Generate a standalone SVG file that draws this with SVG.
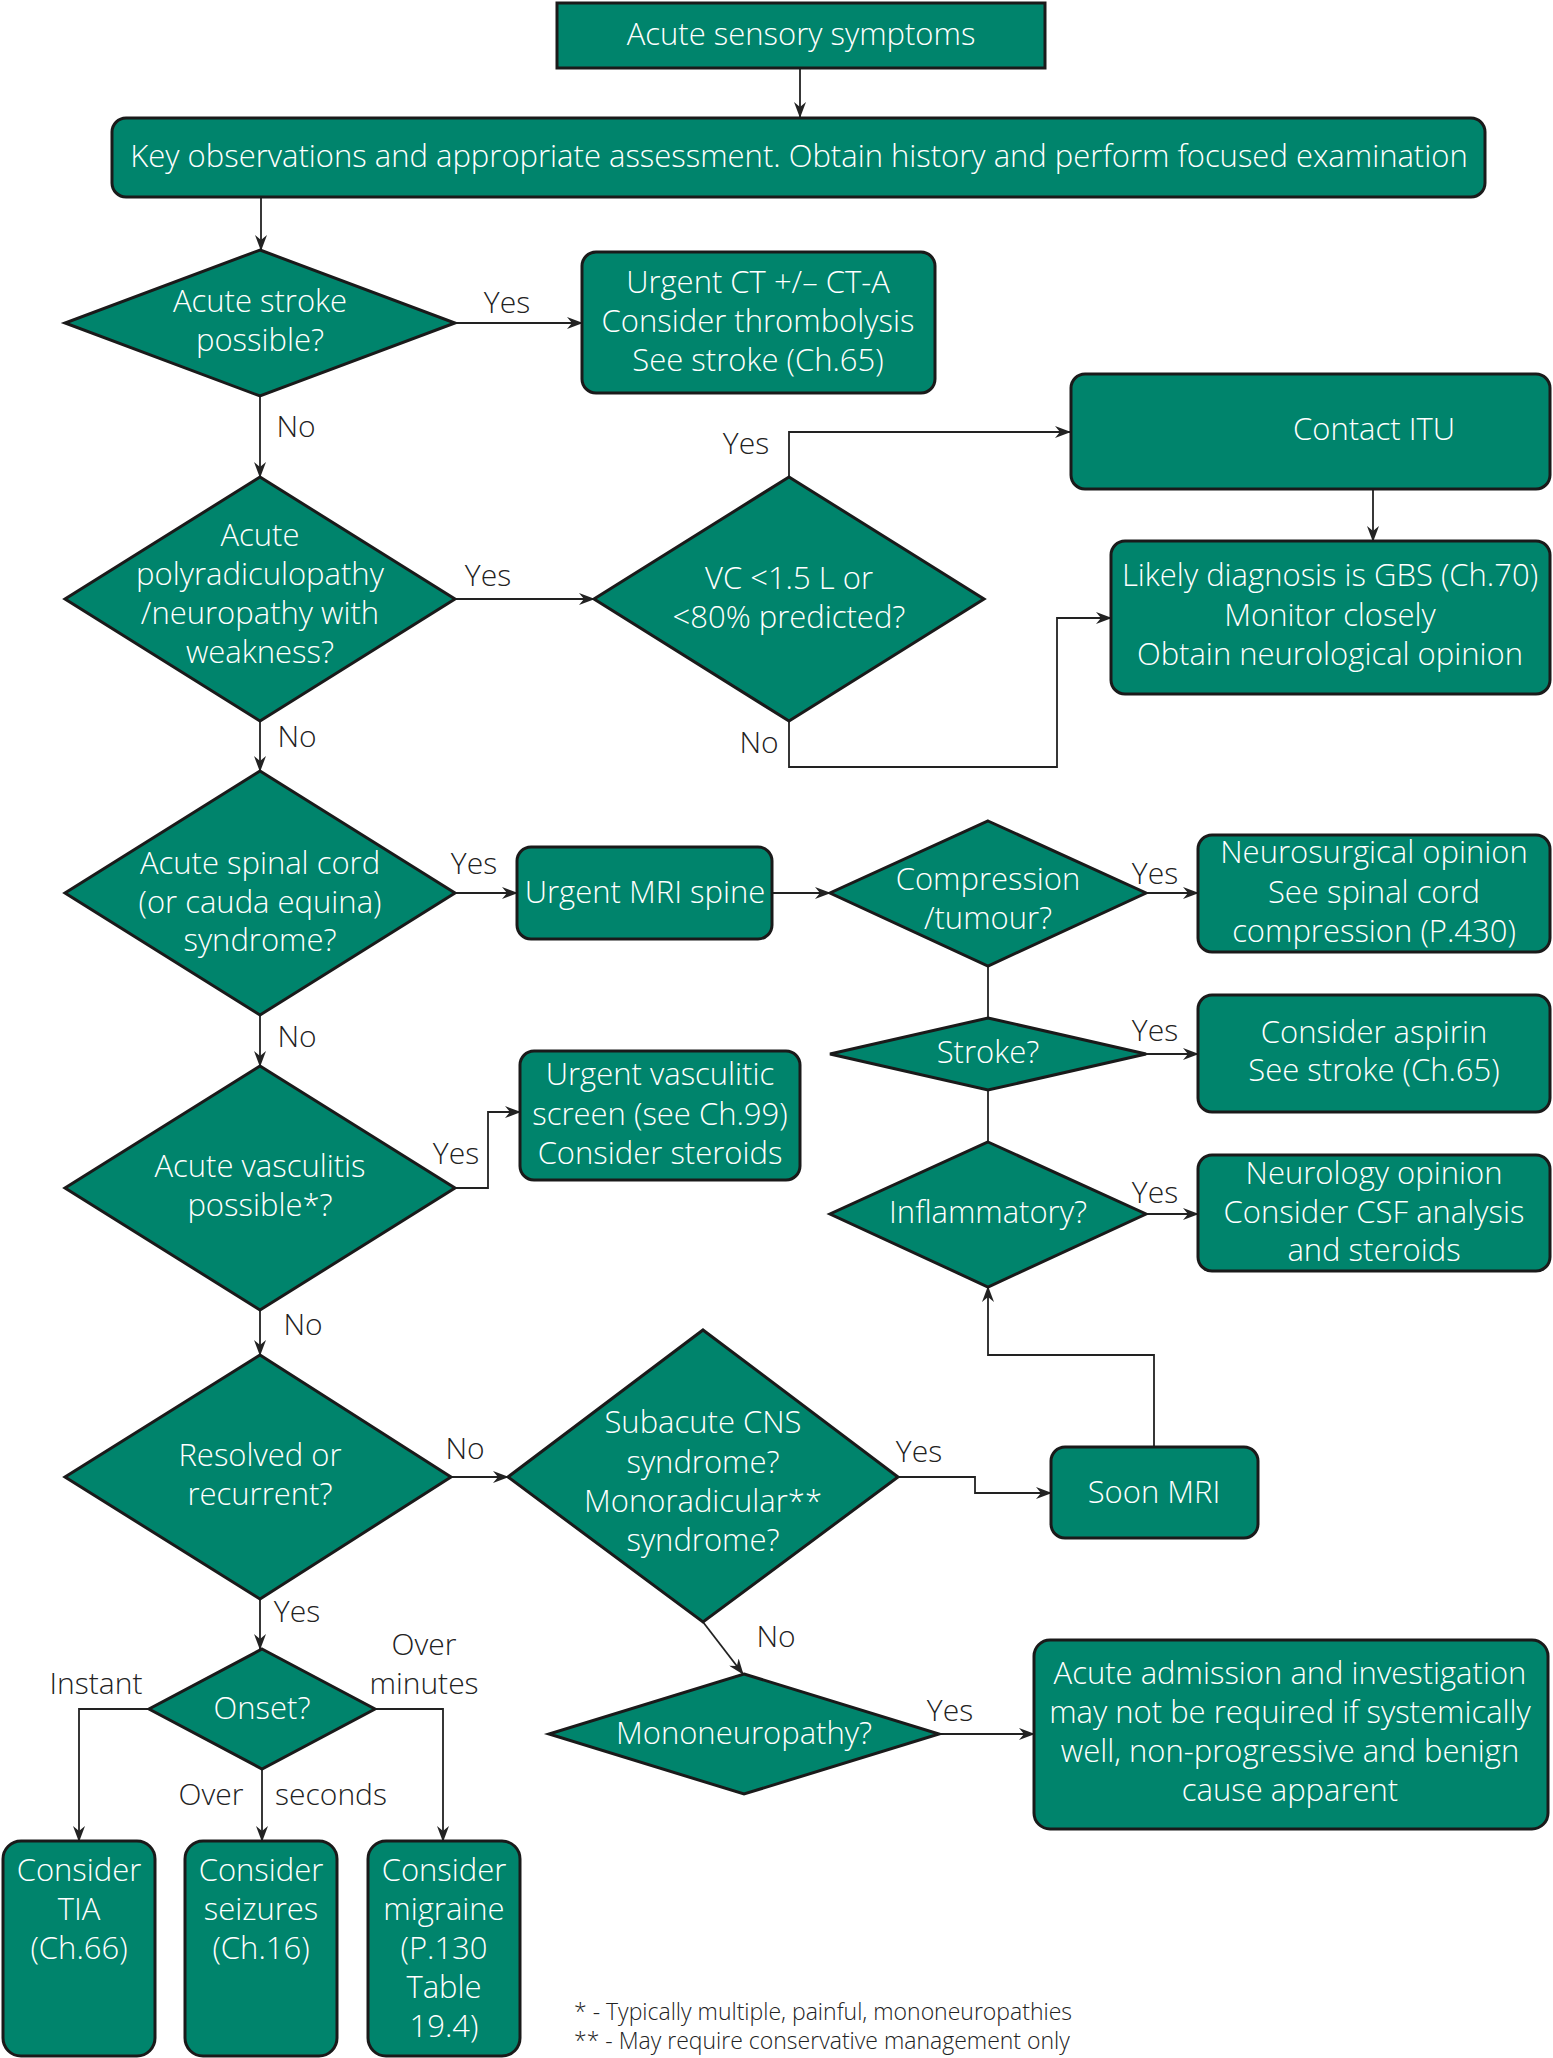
<svg xmlns="http://www.w3.org/2000/svg" width="1553" height="2058" viewBox="0 0 1553 2058">
<defs>
<marker id="ah" viewBox="0 0 16 12" refX="15" refY="6" markerWidth="16" markerHeight="12" markerUnits="userSpaceOnUse" orient="auto">
<path d="M0,0 L16,6 L0,12 L5,6 z" fill="#222"/>
</marker>
<style>
.n{fill:#00846c;stroke:#1a1a1a;stroke-width:3}
.t{fill:#ffffff;font-family:"Open Sans","Noto Sans",sans-serif;font-size:31px;font-weight:300;text-anchor:middle}
.l{fill:#222;font-family:"Open Sans","Noto Sans",sans-serif;font-size:30px;font-weight:300;text-anchor:middle}
.f{fill:#222;font-family:"Open Sans","Noto Sans",sans-serif;font-size:23px;font-weight:300}
.c{fill:none;stroke:#222;stroke-width:1.8}
.a{marker-end:url(#ah)}
</style>
</defs>
<rect width="1553" height="2058" fill="#ffffff"/>

<g id="connectors">
<path class="c a" d="M800,68 V117"/>
<path class="c a" d="M261,197 V250"/>
<path class="c a" d="M455,323 H582"/>
<path class="c a" d="M260,396 V477"/>
<path class="c a" d="M455,599 H594"/>
<path class="c a" d="M789,477 V432 H1070"/>
<path class="c a" d="M1373,489 V541"/>
<path class="c a" d="M789,721 V767 H1057 V618 H1111"/>
<path class="c a" d="M260,721 V771"/>
<path class="c a" d="M455,893 H517"/>
<path class="c a" d="M772,893 H830"/>
<path class="c a" d="M1146,893 H1198"/>
<path class="c" d="M988,966 V1018"/>
<path class="c a" d="M1146,1054 H1198"/>
<path class="c" d="M988,1090 V1142"/>
<path class="c a" d="M1146,1214 H1198"/>
<path class="c a" d="M1154,1447 V1355 H988 V1287"/>
<path class="c a" d="M260,1015 V1066"/>
<path class="c a" d="M455,1188 H488 V1112 H520"/>
<path class="c a" d="M260,1310 V1355"/>
<path class="c a" d="M451,1477 H508"/>
<path class="c a" d="M898,1477 H975 V1493 H1051"/>
<path class="c a" d="M703,1622 L743,1674"/>
<path class="c a" d="M939,1734 H1034"/>
<path class="c a" d="M260,1599 V1649"/>
<path class="c a" d="M149,1709 H79 V1841"/>
<path class="c a" d="M262,1769 V1841"/>
<path class="c a" d="M375,1709 H443 V1841"/>
</g>

<g id="labels">
<text class="l" x="507" y="313">Yes</text>
<text class="l" x="296" y="437">No</text>
<text class="l" x="488" y="586">Yes</text>
<text class="l" x="746" y="454">Yes</text>
<text class="l" x="759" y="753">No</text>
<text class="l" x="297" y="747">No</text>
<text class="l" x="474" y="874">Yes</text>
<text class="l" x="1155" y="884">Yes</text>
<text class="l" x="1155" y="1041">Yes</text>
<text class="l" x="1155" y="1203">Yes</text>
<text class="l" x="297" y="1047">No</text>
<text class="l" x="456" y="1164">Yes</text>
<text class="l" x="303" y="1335">No</text>
<text class="l" x="465" y="1459">No</text>
<text class="l" x="919" y="1462">Yes</text>
<text class="l" x="776" y="1647">No</text>
<text class="l" x="950" y="1721">Yes</text>
<text class="l" x="297" y="1622">Yes</text>
<text class="l" x="96" y="1694">Instant</text>
<text class="l" x="211" y="1805">Over</text>
<text class="l" x="331" y="1805">seconds</text>
<text class="l" x="424" y="1655">Over</text>
<text class="l" x="424" y="1694">minutes</text>
</g>

<g id="n-start">
<rect class="n" x="557" y="3" width="488" height="65"/>
<text class="t" x="801" y="45">Acute sensory symptoms</text>
</g>
<g id="n-key">
<rect class="n" x="112" y="118" width="1373" height="79" rx="14"/>
<text class="t" x="799" y="167">Key observations and appropriate assessment. Obtain history and perform focused examination</text>
</g>
<g id="d-stroke">
<polygon class="n" points="260,250 455,323 260,396 65,323"/>
<text class="t" x="260" y="312">Acute stroke</text>
<text class="t" x="260" y="351">possible?</text>
</g>
<g id="n-ct">
<rect class="n" x="582" y="252" width="353" height="141" rx="14"/>
<text class="t" x="758" y="293">Urgent CT +/– CT-A</text>
<text class="t" x="758" y="332">Consider thrombolysis</text>
<text class="t" x="758" y="371">See stroke (Ch.65)</text>
</g>
<g id="d-poly">
<polygon class="n" points="260,477 455,599 260,721 65,599"/>
<text class="t" x="260" y="546">Acute</text>
<text class="t" x="260" y="585">polyradiculopathy</text>
<text class="t" x="260" y="624">/neuropathy with</text>
<text class="t" x="260" y="663">weakness?</text>
</g>
<g id="d-vc">
<polygon class="n" points="789,477 984,599 789,721 594,599"/>
<text class="t" x="789" y="589">VC &lt;1.5 L or</text>
<text class="t" x="789" y="628">&lt;80% predicted?</text>
</g>
<g id="n-itu">
<rect class="n" x="1071" y="374" width="479" height="115" rx="14"/>
<text class="t" x="1374" y="440">Contact ITU</text>
</g>
<g id="n-gbs">
<rect class="n" x="1111" y="541" width="439" height="153" rx="14"/>
<text class="t" x="1330" y="586">Likely diagnosis is GBS (Ch.70)</text>
<text class="t" x="1330" y="626">Monitor closely</text>
<text class="t" x="1330" y="665">Obtain neurological opinion</text>
</g>
<g id="d-spinal">
<polygon class="n" points="260,771 455,893 260,1015 65,893"/>
<text class="t" x="260" y="874">Acute spinal cord</text>
<text class="t" x="260" y="913">(or cauda equina)</text>
<text class="t" x="260" y="951">syndrome?</text>
</g>
<g id="n-mri">
<rect class="n" x="517" y="847" width="255" height="92" rx="14"/>
<text class="t" x="645" y="903">Urgent MRI spine</text>
</g>
<g id="d-compression">
<polygon class="n" points="988,821 1146,893 988,966 830,893"/>
<text class="t" x="988" y="890">Compression</text>
<text class="t" x="988" y="929">/tumour?</text>
</g>
<g id="n-neurosurg">
<rect class="n" x="1198" y="835" width="352" height="117" rx="14"/>
<text class="t" x="1374" y="863">Neurosurgical opinion</text>
<text class="t" x="1374" y="903">See spinal cord</text>
<text class="t" x="1374" y="942">compression (P.430)</text>
</g>
<g id="d-strokeq">
<polygon class="n" points="988,1018 1146,1054 988,1090 830,1054"/>
<text class="t" x="988" y="1063">Stroke?</text>
</g>
<g id="n-aspirin">
<rect class="n" x="1198" y="995" width="352" height="117" rx="14"/>
<text class="t" x="1374" y="1043">Consider aspirin</text>
<text class="t" x="1374" y="1081">See stroke (Ch.65)</text>
</g>
<g id="d-inflam">
<polygon class="n" points="988,1142 1146,1214 988,1287 830,1214"/>
<text class="t" x="988" y="1223">Inflammatory?</text>
</g>
<g id="n-neurology">
<rect class="n" x="1198" y="1155" width="352" height="116" rx="14"/>
<text class="t" x="1374" y="1184">Neurology opinion</text>
<text class="t" x="1374" y="1223">Consider CSF analysis</text>
<text class="t" x="1374" y="1261">and steroids</text>
</g>
<g id="d-vasculitis">
<polygon class="n" points="260,1066 455,1188 260,1310 65,1188"/>
<text class="t" x="260" y="1177">Acute vasculitis</text>
<text class="t" x="260" y="1216">possible*?</text>
</g>
<g id="n-vasc">
<rect class="n" x="520" y="1051" width="280" height="129" rx="14"/>
<text class="t" x="660" y="1085">Urgent vasculitic</text>
<text class="t" x="660" y="1125">screen (see Ch.99)</text>
<text class="t" x="660" y="1164">Consider steroids</text>
</g>
<g id="d-resolved">
<polygon class="n" points="260,1355 451,1477 260,1599 65,1477"/>
<text class="t" x="260" y="1466">Resolved or</text>
<text class="t" x="260" y="1505">recurrent?</text>
</g>
<g id="d-subacute">
<polygon class="n" points="703,1330 898,1477 703,1622 508,1477"/>
<text class="t" x="703" y="1433">Subacute CNS</text>
<text class="t" x="703" y="1473">syndrome?</text>
<text class="t" x="703" y="1512">Monoradicular**</text>
<text class="t" x="703" y="1551">syndrome?</text>
</g>
<g id="n-soon">
<rect class="n" x="1051" y="1447" width="207" height="91" rx="14"/>
<text class="t" x="1154" y="1503">Soon MRI</text>
</g>
<g id="d-mono">
<polygon class="n" points="744,1674 939,1734 744,1794 549,1734"/>
<text class="t" x="744" y="1744">Mononeuropathy?</text>
</g>
<g id="n-admission">
<rect class="n" x="1034" y="1640" width="514" height="189" rx="16"/>
<text class="t" x="1290" y="1684">Acute admission and investigation</text>
<text class="t" x="1290" y="1723">may not be required if systemically</text>
<text class="t" x="1290" y="1762">well, non-progressive and benign</text>
<text class="t" x="1290" y="1801">cause apparent</text>
</g>
<g id="d-onset">
<polygon class="n" points="262,1649 375,1709 262,1769 149,1709"/>
<text class="t" x="262" y="1719">Onset?</text>
</g>
<g id="n-tia">
<rect class="n" x="3" y="1841" width="152" height="215" rx="18"/>
<text class="t" x="79" y="1881">Consider</text>
<text class="t" x="79" y="1920">TIA</text>
<text class="t" x="79" y="1959">(Ch.66)</text>
</g>
<g id="n-seizures">
<rect class="n" x="185" y="1841" width="152" height="215" rx="18"/>
<text class="t" x="261" y="1881">Consider</text>
<text class="t" x="261" y="1920">seizures</text>
<text class="t" x="261" y="1959">(Ch.16)</text>
</g>
<g id="n-migraine">
<rect class="n" x="368" y="1841" width="152" height="215" rx="18"/>
<text class="t" x="444" y="1881">Consider</text>
<text class="t" x="444" y="1920">migraine</text>
<text class="t" x="444" y="1959">(P.130</text>
<text class="t" x="444" y="1998">Table</text>
<text class="t" x="444" y="2037">19.4)</text>
</g>
<g id="footnotes">
<text class="f" x="574" y="2020">* - Typically multiple, painful, mononeuropathies</text>
<text class="f" x="574" y="2049">** - May require conservative management only</text>
</g>
</svg>
